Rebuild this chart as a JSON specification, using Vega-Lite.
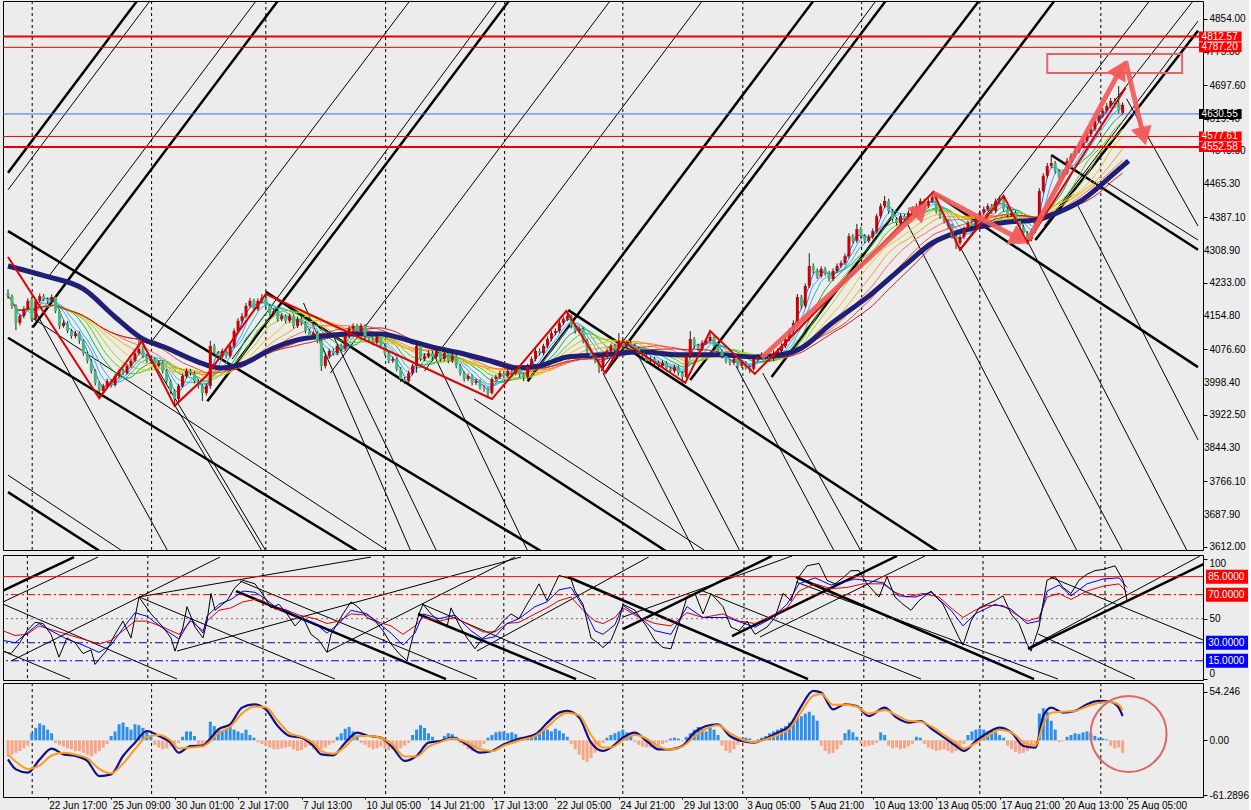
{
"$schema":"https://vega.github.io/schema/vega-lite/v6.json",
"background":"#ECECEC",
"padding":0,
"spacing":1,
"config":{"view":{"stroke":"#000000","strokeWidth":1},"axis":{"labelFont":"Liberation Sans","labelFontSize":10,"labelColor":"#000000","tickColor":"#000000","domainColor":"#000000","grid":false,"title":null,"labelOverlap":false,"labelBound":false}},
"datasets":{
"candles":[
{"i":0,"o":4210,"h":4218,"l":4196,"c":4202,"g":-18},{"i":1,"o":4202,"h":4206,"l":4172,"c":4179,"g":-16},{"i":2,"o":4179,"h":4183,"l":4122,"c":4139,"g":-14},{"i":3,"o":4139,"h":4160,"l":4133,"c":4155,"g":-12},{"i":4,"o":4155,"h":4178,"l":4150,"c":4172,"g":-9},{"i":5,"o":4172,"h":4197,"l":4168,"c":4191,"g":-6},{"i":6,"o":4195,"h":4200,"l":4143,"c":4148,"g":8},{"i":7,"o":4148,"h":4195,"l":4144,"c":4191,"g":14},{"i":8,"o":4191,"h":4208,"l":4186,"c":4202,"g":19},{"i":9,"o":4202,"h":4207,"l":4190,"c":4195,"g":17},
{"i":10,"o":4195,"h":4199,"l":4184,"c":4191,"g":12},{"i":11,"o":4191,"h":4206,"l":4187,"c":4200,"g":8},{"i":12,"o":4200,"h":4203,"l":4162,"c":4167,"g":-3},{"i":13,"o":4167,"h":4170,"l":4125,"c":4132,"g":-5},{"i":14,"o":4132,"h":4145,"l":4128,"c":4139,"g":-7},{"i":15,"o":4139,"h":4143,"l":4115,"c":4120,"g":-9},{"i":16,"o":4120,"h":4125,"l":4102,"c":4108,"g":-10},{"i":17,"o":4108,"h":4120,"l":4103,"c":4115,"g":-12},{"i":18,"o":4115,"h":4119,"l":4090,"c":4097,"g":-12},{"i":19,"o":4097,"h":4100,"l":4062,"c":4068,"g":-14},
{"i":20,"o":4068,"h":4072,"l":4044,"c":4050,"g":-16},{"i":21,"o":4050,"h":4054,"l":4020,"c":4026,"g":-18},{"i":22,"o":4026,"h":4030,"l":3992,"c":3998,"g":-15},{"i":23,"o":3998,"h":4002,"l":3962,"c":3979,"g":-12},{"i":24,"o":3979,"h":3996,"l":3972,"c":3991,"g":-8},{"i":25,"o":3991,"h":4008,"l":3986,"c":4002,"g":-4},{"i":26,"o":4002,"h":4007,"l":3987,"c":3993,"g":5},{"i":27,"o":3993,"h":4019,"l":3989,"c":4014,"g":10},{"i":28,"o":4014,"h":4031,"l":4009,"c":4026,"g":18},{"i":29,"o":4026,"h":4032,"l":4016,"c":4021,"g":20},
{"i":30,"o":4021,"h":4043,"l":4017,"c":4038,"g":15},{"i":31,"o":4038,"h":4055,"l":4033,"c":4050,"g":12},{"i":32,"o":4050,"h":4074,"l":4046,"c":4068,"g":18},{"i":33,"o":4068,"h":4097,"l":4063,"c":4078,"g":17},{"i":34,"o":4078,"h":4083,"l":4056,"c":4061,"g":14},{"i":35,"o":4061,"h":4066,"l":4044,"c":4050,"g":10},{"i":36,"o":4050,"h":4060,"l":4045,"c":4054,"g":6},{"i":37,"o":4054,"h":4058,"l":4032,"c":4038,"g":-5},{"i":38,"o":4038,"h":4050,"l":4034,"c":4045,"g":-8},{"i":39,"o":4045,"h":4049,"l":4020,"c":4026,"g":-10},
{"i":40,"o":4026,"h":4030,"l":3997,"c":4002,"g":-9},{"i":41,"o":4002,"h":4006,"l":3972,"c":3979,"g":-7},{"i":42,"o":3979,"h":3983,"l":3944,"c":3960,"g":-5},{"i":43,"o":3960,"h":3996,"l":3955,"c":3991,"g":-3},{"i":44,"o":3991,"h":4020,"l":3987,"c":4014,"g":4},{"i":45,"o":4014,"h":4032,"l":4009,"c":4026,"g":10},{"i":46,"o":4026,"h":4031,"l":4015,"c":4021,"g":10},{"i":47,"o":4021,"h":4025,"l":3997,"c":4002,"g":5},{"i":48,"o":4002,"h":4006,"l":3985,"c":3991,"g":-4},{"i":49,"o":3991,"h":3995,"l":3955,"c":3974,"g":-6},
{"i":50,"o":3974,"h":3996,"l":3968,"c":3991,"g":-3},{"i":51,"o":3991,"h":4097,"l":3984,"c":4085,"g":21},{"i":52,"o":4085,"h":4090,"l":4062,"c":4068,"g":16},{"i":53,"o":4068,"h":4073,"l":4055,"c":4061,"g":12},{"i":54,"o":4061,"h":4079,"l":4056,"c":4073,"g":10},{"i":55,"o":4073,"h":4077,"l":4055,"c":4061,"g":13},{"i":56,"o":4061,"h":4090,"l":4057,"c":4085,"g":15},{"i":57,"o":4085,"h":4126,"l":4080,"c":4120,"g":12},{"i":58,"o":4120,"h":4150,"l":4115,"c":4144,"g":10},{"i":59,"o":4144,"h":4162,"l":4138,"c":4155,"g":8},
{"i":60,"o":4155,"h":4186,"l":4150,"c":4179,"g":12},{"i":61,"o":4179,"h":4198,"l":4174,"c":4191,"g":6},{"i":62,"o":4191,"h":4196,"l":4166,"c":4172,"g":3},{"i":63,"o":4172,"h":4197,"l":4167,"c":4191,"g":-2},{"i":64,"o":4191,"h":4207,"l":4185,"c":4198,"g":-4},{"i":65,"o":4198,"h":4203,"l":4173,"c":4179,"g":-6},{"i":66,"o":4179,"h":4184,"l":4156,"c":4162,"g":-8},{"i":67,"o":4162,"h":4173,"l":4157,"c":4167,"g":-10},{"i":68,"o":4167,"h":4171,"l":4142,"c":4148,"g":-10},{"i":69,"o":4148,"h":4161,"l":4143,"c":4155,"g":-9},
{"i":70,"o":4155,"h":4159,"l":4138,"c":4144,"g":-8},{"i":71,"o":4144,"h":4161,"l":4139,"c":4155,"g":-7},{"i":72,"o":4155,"h":4159,"l":4126,"c":4132,"g":-10},{"i":73,"o":4132,"h":4154,"l":4127,"c":4148,"g":-12},{"i":74,"o":4148,"h":4153,"l":4133,"c":4139,"g":-11},{"i":75,"o":4139,"h":4143,"l":4114,"c":4120,"g":-8},{"i":76,"o":4120,"h":4125,"l":4102,"c":4108,"g":-6},{"i":77,"o":4108,"h":4121,"l":4103,"c":4115,"g":-10},{"i":78,"o":4115,"h":4119,"l":4091,"c":4097,"g":-12},{"i":79,"o":4097,"h":4101,"l":4026,"c":4038,"g":-10},
{"i":80,"o":4038,"h":4067,"l":4032,"c":4061,"g":-8},{"i":81,"o":4061,"h":4078,"l":4055,"c":4073,"g":-5},{"i":82,"o":4073,"h":4079,"l":4062,"c":4068,"g":-3},{"i":83,"o":4068,"h":4090,"l":4063,"c":4085,"g":4},{"i":84,"o":4085,"h":4090,"l":4072,"c":4078,"g":8},{"i":85,"o":4078,"h":4114,"l":4073,"c":4108,"g":13},{"i":86,"o":4108,"h":4131,"l":4103,"c":4125,"g":15},{"i":87,"o":4125,"h":4138,"l":4120,"c":4132,"g":10},{"i":88,"o":4132,"h":4137,"l":4114,"c":4120,"g":5},{"i":89,"o":4120,"h":4138,"l":4115,"c":4132,"g":-3},
{"i":90,"o":4132,"h":4136,"l":4102,"c":4108,"g":-5},{"i":91,"o":4108,"h":4113,"l":4095,"c":4101,"g":-8},{"i":92,"o":4101,"h":4106,"l":4086,"c":4092,"g":-10},{"i":93,"o":4092,"h":4114,"l":4087,"c":4108,"g":-9},{"i":94,"o":4108,"h":4112,"l":4079,"c":4085,"g":-7},{"i":95,"o":4085,"h":4089,"l":4062,"c":4068,"g":-9},{"i":96,"o":4068,"h":4072,"l":4044,"c":4050,"g":-11},{"i":97,"o":4050,"h":4060,"l":4045,"c":4054,"g":-10},{"i":98,"o":4054,"h":4058,"l":4025,"c":4031,"g":-12},{"i":99,"o":4031,"h":4035,"l":4000,"c":4007,"g":-9},
{"i":100,"o":4007,"h":4012,"l":3995,"c":4002,"g":-6},{"i":101,"o":4002,"h":4027,"l":3998,"c":4021,"g":-3},{"i":102,"o":4021,"h":4043,"l":4016,"c":4038,"g":6},{"i":103,"o":4038,"h":4097,"l":4022,"c":4085,"g":12},{"i":104,"o":4085,"h":4089,"l":4049,"c":4054,"g":17},{"i":105,"o":4054,"h":4067,"l":4049,"c":4061,"g":14},{"i":106,"o":4061,"h":4074,"l":4056,"c":4068,"g":8},{"i":107,"o":4068,"h":4073,"l":4053,"c":4059,"g":4},{"i":108,"o":4059,"h":4079,"l":4054,"c":4073,"g":-2},{"i":109,"o":4073,"h":4077,"l":4048,"c":4054,"g":-1},
{"i":110,"o":4054,"h":4074,"l":4049,"c":4068,"g":5},{"i":111,"o":4068,"h":4072,"l":4044,"c":4050,"g":8},{"i":112,"o":4050,"h":4067,"l":4045,"c":4061,"g":7},{"i":113,"o":4061,"h":4065,"l":4032,"c":4038,"g":4},{"i":114,"o":4038,"h":4042,"l":4015,"c":4021,"g":-3},{"i":115,"o":4021,"h":4025,"l":4001,"c":4007,"g":-6},{"i":116,"o":4007,"h":4020,"l":4002,"c":4014,"g":-10},{"i":117,"o":4014,"h":4018,"l":3992,"c":3998,"g":-12},{"i":118,"o":3998,"h":4008,"l":3993,"c":4002,"g":-10},{"i":119,"o":4002,"h":4006,"l":3982,"c":3988,"g":-8},
{"i":120,"o":3988,"h":3993,"l":3977,"c":3984,"g":-4},{"i":121,"o":3984,"h":3988,"l":3962,"c":3974,"g":3},{"i":122,"o":3974,"h":4012,"l":3970,"c":4007,"g":6},{"i":123,"o":4007,"h":4018,"l":4002,"c":4012,"g":9},{"i":124,"o":4012,"h":4027,"l":4007,"c":4021,"g":10},{"i":125,"o":4021,"h":4026,"l":4009,"c":4014,"g":10},{"i":126,"o":4014,"h":4032,"l":4009,"c":4026,"g":8},{"i":127,"o":4026,"h":4031,"l":4015,"c":4021,"g":9},{"i":128,"o":4021,"h":4037,"l":4016,"c":4031,"g":7},{"i":129,"o":4031,"h":4035,"l":4011,"c":4017,"g":2},
{"i":130,"o":4017,"h":4021,"l":4002,"c":4012,"g":1},{"i":131,"o":4012,"h":4043,"l":4008,"c":4038,"g":2},{"i":132,"o":4038,"h":4060,"l":4033,"c":4054,"g":5},{"i":133,"o":4054,"h":4079,"l":4049,"c":4073,"g":8},{"i":134,"o":4073,"h":4079,"l":4062,"c":4068,"g":11},{"i":135,"o":4068,"h":4090,"l":4063,"c":4085,"g":13},{"i":136,"o":4085,"h":4107,"l":4080,"c":4101,"g":12},{"i":137,"o":4101,"h":4121,"l":4096,"c":4115,"g":10},{"i":138,"o":4115,"h":4126,"l":4110,"c":4120,"g":13},{"i":139,"o":4120,"h":4145,"l":4115,"c":4139,"g":11},
{"i":140,"o":4139,"h":4154,"l":4134,"c":4148,"g":8},{"i":141,"o":4148,"h":4167,"l":4143,"c":4155,"g":4},{"i":142,"o":4155,"h":4159,"l":4126,"c":4132,"g":-4},{"i":143,"o":4132,"h":4137,"l":4114,"c":4120,"g":-10},{"i":144,"o":4120,"h":4131,"l":4115,"c":4125,"g":-16},{"i":145,"o":4125,"h":4129,"l":4091,"c":4097,"g":-22},{"i":146,"o":4097,"h":4101,"l":4067,"c":4073,"g":-24},{"i":147,"o":4073,"h":4077,"l":4055,"c":4061,"g":-20},{"i":148,"o":4061,"h":4066,"l":4044,"c":4050,"g":-14},{"i":149,"o":4050,"h":4054,"l":4021,"c":4035,"g":-8},
{"i":150,"o":4035,"h":4067,"l":4030,"c":4061,"g":-3},{"i":151,"o":4061,"h":4079,"l":4056,"c":4073,"g":3},{"i":152,"o":4073,"h":4090,"l":4068,"c":4085,"g":6},{"i":153,"o":4085,"h":4090,"l":4072,"c":4078,"g":8},{"i":154,"o":4078,"h":4115,"l":4073,"c":4097,"g":10},{"i":155,"o":4097,"h":4102,"l":4079,"c":4085,"g":12},{"i":156,"o":4085,"h":4098,"l":4080,"c":4092,"g":9},{"i":157,"o":4092,"h":4097,"l":4079,"c":4085,"g":5},{"i":158,"o":4085,"h":4090,"l":4072,"c":4078,"g":-2},{"i":159,"o":4078,"h":4083,"l":4062,"c":4068,"g":-5},
{"i":160,"o":4068,"h":4073,"l":4055,"c":4061,"g":-7},{"i":161,"o":4061,"h":4066,"l":4044,"c":4050,"g":-8},{"i":162,"o":4050,"h":4060,"l":4045,"c":4054,"g":-8},{"i":163,"o":4054,"h":4059,"l":4039,"c":4045,"g":-7},{"i":164,"o":4045,"h":4050,"l":4032,"c":4038,"g":-6},{"i":165,"o":4038,"h":4051,"l":4033,"c":4045,"g":-4},{"i":166,"o":4045,"h":4049,"l":4025,"c":4031,"g":-2},{"i":167,"o":4031,"h":4036,"l":4020,"c":4026,"g":2},{"i":168,"o":4026,"h":4041,"l":4021,"c":4035,"g":3},{"i":169,"o":4035,"h":4039,"l":4015,"c":4021,"g":2},
{"i":170,"o":4021,"h":4025,"l":3998,"c":4012,"g":-1},{"i":171,"o":4012,"h":4067,"l":4008,"c":4061,"g":4},{"i":172,"o":4061,"h":4120,"l":4056,"c":4101,"g":8},{"i":173,"o":4101,"h":4106,"l":4079,"c":4085,"g":12},{"i":174,"o":4085,"h":4090,"l":4072,"c":4078,"g":15},{"i":175,"o":4078,"h":4098,"l":4073,"c":4092,"g":13},{"i":176,"o":4092,"h":4103,"l":4087,"c":4097,"g":10},{"i":177,"o":4097,"h":4120,"l":4092,"c":4106,"g":14},{"i":178,"o":4106,"h":4110,"l":4079,"c":4085,"g":12},{"i":179,"o":4085,"h":4089,"l":4067,"c":4073,"g":6},
{"i":180,"o":4073,"h":4077,"l":4055,"c":4061,"g":-6},{"i":181,"o":4061,"h":4066,"l":4044,"c":4050,"g":-12},{"i":182,"o":4050,"h":4055,"l":4039,"c":4045,"g":-14},{"i":183,"o":4045,"h":4060,"l":4040,"c":4054,"g":-10},{"i":184,"o":4054,"h":4058,"l":4032,"c":4038,"g":-5},{"i":185,"o":4038,"h":4051,"l":4033,"c":4045,"g":2},{"i":186,"o":4045,"h":4049,"l":4029,"c":4035,"g":3},{"i":187,"o":4035,"h":4040,"l":4021,"c":4031,"g":2},{"i":188,"o":4031,"h":4060,"l":4027,"c":4054,"g":-1},{"i":189,"o":4054,"h":4065,"l":4049,"c":4059,"g":1},
{"i":190,"o":4059,"h":4070,"l":4053,"c":4064,"g":3},{"i":191,"o":4064,"h":4069,"l":4053,"c":4059,"g":5},{"i":192,"o":4059,"h":4064,"l":4048,"c":4054,"g":8},{"i":193,"o":4054,"h":4074,"l":4049,"c":4068,"g":10},{"i":194,"o":4068,"h":4079,"l":4063,"c":4073,"g":12},{"i":195,"o":4073,"h":4091,"l":4068,"c":4085,"g":14},{"i":196,"o":4085,"h":4107,"l":4080,"c":4101,"g":16},{"i":197,"o":4101,"h":4126,"l":4096,"c":4120,"g":20},{"i":198,"o":4120,"h":4145,"l":4115,"c":4139,"g":22},{"i":199,"o":4139,"h":4207,"l":4134,"c":4200,"g":25},
{"i":200,"o":4200,"h":4205,"l":4172,"c":4179,"g":27},{"i":201,"o":4179,"h":4232,"l":4174,"c":4226,"g":30},{"i":202,"o":4226,"h":4303,"l":4221,"c":4273,"g":32},{"i":203,"o":4273,"h":4279,"l":4255,"c":4261,"g":28},{"i":204,"o":4261,"h":4267,"l":4243,"c":4249,"g":22},{"i":205,"o":4249,"h":4272,"l":4244,"c":4266,"g":-6},{"i":206,"o":4266,"h":4271,"l":4250,"c":4256,"g":-12},{"i":207,"o":4256,"h":4261,"l":4236,"c":4242,"g":-15},{"i":208,"o":4242,"h":4267,"l":4237,"c":4261,"g":-14},{"i":209,"o":4261,"h":4279,"l":4256,"c":4273,"g":-10},
{"i":210,"o":4273,"h":4286,"l":4268,"c":4280,"g":-5},{"i":211,"o":4280,"h":4302,"l":4275,"c":4296,"g":8},{"i":212,"o":4296,"h":4350,"l":4291,"c":4343,"g":12},{"i":213,"o":4343,"h":4348,"l":4326,"c":4332,"g":9},{"i":214,"o":4332,"h":4372,"l":4327,"c":4360,"g":4},{"i":215,"o":4360,"h":4365,"l":4337,"c":4343,"g":-4},{"i":216,"o":4343,"h":4348,"l":4326,"c":4332,"g":-7},{"i":217,"o":4332,"h":4347,"l":4327,"c":4341,"g":-6},{"i":218,"o":4341,"h":4361,"l":4336,"c":4355,"g":-5},{"i":219,"o":4355,"h":4396,"l":4350,"c":4390,"g":-3},
{"i":220,"o":4390,"h":4420,"l":4385,"c":4414,"g":9},{"i":221,"o":4414,"h":4438,"l":4409,"c":4426,"g":6},{"i":222,"o":4426,"h":4431,"l":4396,"c":4402,"g":-6},{"i":223,"o":4402,"h":4407,"l":4377,"c":4383,"g":-9},{"i":224,"o":4383,"h":4388,"l":4368,"c":4374,"g":-8},{"i":225,"o":4374,"h":4396,"l":4369,"c":4390,"g":-10},{"i":226,"o":4390,"h":4395,"l":4377,"c":4383,"g":-9},{"i":227,"o":4383,"h":4404,"l":4378,"c":4398,"g":-7},{"i":228,"o":4398,"h":4413,"l":4393,"c":4407,"g":-4},{"i":229,"o":4407,"h":4420,"l":4402,"c":4414,"g":4},
{"i":230,"o":4414,"h":4432,"l":4409,"c":4426,"g":3},{"i":231,"o":4426,"h":4431,"l":4408,"c":4414,"g":-4},{"i":232,"o":4414,"h":4432,"l":4409,"c":4426,"g":-8},{"i":233,"o":4426,"h":4445,"l":4421,"c":4435,"g":-10},{"i":234,"o":4435,"h":4440,"l":4396,"c":4402,"g":-12},{"i":235,"o":4402,"h":4407,"l":4384,"c":4390,"g":-11},{"i":236,"o":4390,"h":4395,"l":4373,"c":4379,"g":-10},{"i":237,"o":4379,"h":4384,"l":4361,"c":4367,"g":-12},{"i":238,"o":4367,"h":4372,"l":4337,"c":4343,"g":-14},{"i":239,"o":4343,"h":4348,"l":4313,"c":4327,"g":-12},
{"i":240,"o":4327,"h":4347,"l":4322,"c":4341,"g":-8},{"i":241,"o":4341,"h":4366,"l":4336,"c":4360,"g":-4},{"i":242,"o":4360,"h":4380,"l":4355,"c":4374,"g":6},{"i":243,"o":4374,"h":4380,"l":4361,"c":4367,"g":10},{"i":244,"o":4367,"h":4389,"l":4362,"c":4383,"g":12},{"i":245,"o":4383,"h":4404,"l":4378,"c":4398,"g":13},{"i":246,"o":4398,"h":4413,"l":4393,"c":4407,"g":12},{"i":247,"o":4407,"h":4420,"l":4402,"c":4414,"g":10},{"i":248,"o":4414,"h":4419,"l":4396,"c":4402,"g":11},{"i":249,"o":4402,"h":4432,"l":4397,"c":4426,"g":9},
{"i":250,"o":4426,"h":4438,"l":4420,"c":4430,"g":6},{"i":251,"o":4430,"h":4435,"l":4401,"c":4407,"g":3},{"i":252,"o":4407,"h":4412,"l":4387,"c":4393,"g":-6},{"i":253,"o":4393,"h":4404,"l":4388,"c":4398,"g":-10},{"i":254,"o":4398,"h":4403,"l":4373,"c":4379,"g":-13},{"i":255,"o":4379,"h":4384,"l":4359,"c":4365,"g":-15},{"i":256,"o":4365,"h":4370,"l":4344,"c":4350,"g":-14},{"i":257,"o":4350,"h":4355,"l":4327,"c":4336,"g":-12},{"i":258,"o":4336,"h":4361,"l":4331,"c":4355,"g":-9},{"i":259,"o":4355,"h":4385,"l":4350,"c":4379,"g":-5},
{"i":260,"o":4379,"h":4456,"l":4374,"c":4449,"g":30},{"i":261,"o":4449,"h":4491,"l":4444,"c":4485,"g":36},{"i":262,"o":4485,"h":4515,"l":4480,"c":4508,"g":32},{"i":263,"o":4508,"h":4532,"l":4503,"c":4515,"g":22},{"i":264,"o":4515,"h":4520,"l":4490,"c":4496,"g":12},{"i":265,"o":4496,"h":4501,"l":4476,"c":4482,"g":-2},{"i":266,"o":4482,"h":4498,"l":4477,"c":4492,"g":-1},{"i":267,"o":4492,"h":4527,"l":4487,"c":4520,"g":4},{"i":268,"o":4520,"h":4538,"l":4515,"c":4532,"g":6},{"i":269,"o":4532,"h":4550,"l":4527,"c":4543,"g":8},
{"i":270,"o":4543,"h":4562,"l":4538,"c":4555,"g":7},{"i":271,"o":4555,"h":4574,"l":4550,"c":4567,"g":9},{"i":272,"o":4567,"h":4590,"l":4562,"c":4583,"g":10},{"i":273,"o":4583,"h":4602,"l":4578,"c":4595,"g":8},{"i":274,"o":4595,"h":4621,"l":4590,"c":4614,"g":5},{"i":275,"o":4614,"h":4633,"l":4609,"c":4626,"g":3},{"i":276,"o":4626,"h":4645,"l":4621,"c":4638,"g":2},{"i":277,"o":4638,"h":4656,"l":4633,"c":4649,"g":1},{"i":278,"o":4649,"h":4668,"l":4644,"c":4661,"g":-6},{"i":279,"o":4661,"h":4668,"l":4650,"c":4656,"g":-9},
{"i":280,"o":4656,"h":4696,"l":4632,"c":4638,"g":-8},{"i":281,"o":4633,"h":4658,"l":4628,"c":4652,"g":-14}
],
"navy":[{"i":0,"p":4273},{"i":9.5,"p":4249},{"i":19,"p":4219},{"i":27,"p":4153},{"i":33.5,"p":4104},{"i":40,"p":4080},{"i":48,"p":4047},{"i":53.5,"p":4033},{"i":59,"p":4042},{"i":67,"p":4080},{"i":73,"p":4099},{"i":79.5,"p":4108},{"i":86,"p":4113},{"i":94,"p":4113},{"i":100.5,"p":4099},{"i":107,"p":4082},{"i":115,"p":4066},{"i":122.5,"p":4047},{"i":128,"p":4033},{"i":134,"p":4038},{"i":141,"p":4059},{"i":150,"p":4064},{"i":159.5,"p":4071},{"i":169,"p":4064},{"i":179,"p":4064},{"i":188,"p":4059},{"i":195,"p":4064},{"i":200,"p":4080},{"i":207.5,"p":4137},{"i":217,"p":4202},{"i":226.5,"p":4278},{"i":233,"p":4327},{"i":239,"p":4351},{"i":246,"p":4367},{"i":251.5,"p":4376},{"i":259,"p":4381},{"i":265,"p":4400},{"i":270.5,"p":4426},{"i":275,"p":4459},{"i":279,"p":4492},{"i":282.5,"p":4520}],
"zz":[{"x":0,"y":4294},{"x":23,"y":3962},{"x":33.75,"y":4096},{"x":42,"y":3944},{"x":50,"y":4014},{"x":65,"y":4207},{"x":122,"y":3960},{"x":140.75,"y":4167},{"x":150.5,"y":4021},{"x":155,"y":4096},{"x":170.75,"y":3998},{"x":177,"y":4120},{"x":188.25,"y":4019},{"x":233.25,"y":4447},{"x":240,"y":4311},{"x":251,"y":4438},{"x":257,"y":4327},{"x":281.75,"y":4692}],
"sep":[{"x":6.1},{"x":36.2},{"x":65},{"x":95.2},{"x":125.2},{"x":155},{"x":185.25},{"x":215.2},{"x":245},{"x":275.5}],
"dthick":[{"x":0,"y":4492,"x2":32.5,"y2":4896},{"x":6.25,"y":4129,"x2":68,"y2":4896},{"x":50.25,"y":3955,"x2":126.25,"y2":4896},{"x":131,"y":4002,"x2":203,"y2":4896},{"x":150.5,"y":4021,"x2":221.25,"y2":4896},{"x":172,"y":4005,"x2":244.75,"y2":4896},{"x":192.5,"y":4012,"x2":263.75,"y2":4896},{"x":259,"y":4334,"x2":300,"y2":4826},{"x":0,"y":4355,"x2":134.25,"y2":3603},{"x":65,"y":4212,"x2":165.75,"y2":3603},{"x":0,"y":4104,"x2":88,"y2":3603},{"x":0,"y":3741,"x2":23,"y2":3603},{"x":141.25,"y":4169,"x2":234.25,"y2":3603},{"x":233.25,"y":4445,"x2":300,"y2":4035},{"x":263,"y":4534,"x2":300,"y2":4311}],
"dthin":[{"x":0,"y":4452,"x2":35.75,"y2":4896},{"x":10,"y":4245,"x2":62.5,"y2":4896},{"x":36.25,"y":4096,"x2":101.25,"y2":4896},{"x":56.5,"y":4054,"x2":123.25,"y2":4896},{"x":81.25,"y":4021,"x2":151.75,"y2":4896},{"x":105,"y":4026,"x2":175,"y2":4896},{"x":149.5,"y":4026,"x2":218.75,"y2":4896},{"x":240,"y":4313,"x2":287.75,"y2":4896},{"x":261.25,"y":4367,"x2":300,"y2":4849},{"x":275,"y":4614,"x2":298.75,"y2":4896},{"x":5.75,"y":4153,"x2":95.75,"y2":3603},{"x":0,"y":3781,"x2":28.75,"y2":3603},{"x":117.5,"y":3960,"x2":175.75,"y2":3603},{"x":277.25,"y":4468,"x2":300,"y2":4334},{"x":6.75,"y":4169,"x2":40.25,"y2":3603},{"x":33.5,"y":4096,"x2":65,"y2":3603},{"x":42,"y":3946,"x2":64,"y2":3603},{"x":74.5,"y":4186,"x2":101.5,"y2":3603},{"x":82.25,"y":4104,"x2":108,"y2":3603},{"x":107,"y":4071,"x2":131,"y2":3603},{"x":150,"y":4021,"x2":173,"y2":3603},{"x":157.5,"y":4087,"x2":184.5,"y2":3603},{"x":183.5,"y":4038,"x2":208.25,"y2":3603},{"x":190.25,"y":4021,"x2":215,"y2":3603},{"x":226.5,"y":4376,"x2":269.5,"y2":3603},{"x":240,"y":4318,"x2":281,"y2":3603},{"x":257.25,"y":4327,"x2":297.25,"y2":3603},{"x":269.5,"y":4419,"x2":300,"y2":3864},{"x":282,"y":4666,"x2":300,"y2":4367}],
"arrows":[{"x":190,"y":4057,"x2":230.25,"y2":4406},{"x":233.25,"y":4445,"x2":255,"y2":4336},{"x":257.25,"y":4334,"x2":280.5,"y2":4736},{"x":281.75,"y":4755,"x2":286.25,"y2":4578}],
"plab":[{"p":3687.9,"t":"3687.90"},{"p":3844.3,"t":"3844.30"},{"p":3998.4,"t":"3998.40"},{"p":4154.8,"t":"4154.80"},{"p":4308.9,"t":"4308.90"},{"p":4465.3,"t":"4465.30"},{"p":4619.4,"t":"4619.40"},{"p":4775.8,"t":"4775.80"}],
"ptags":[{"p":4812.57,"t":"4812.57"},{"p":4787.2,"t":"4787.20"},{"p":4630.55,"t":"4630.55"},{"p":4577.61,"t":"4577.61"},{"p":4552.58,"t":"4552.58"}],
"sthick":[{"x":0,"y":73.3,"x2":17.75,"y2":101.3},{"x":58.25,"y":73,"x2":110.75,"y2":-0.2},{"x":103.75,"y":53.9,"x2":143.25,"y2":-0.2},{"x":141.25,"y":84.7,"x2":201.25,"y2":-0.2},{"x":155,"y":41.4,"x2":192.25,"y2":102.2},{"x":182.25,"y":35.6,"x2":223.5,"y2":102.2},{"x":198.25,"y":84.7,"x2":257.75,"y2":-0.2},{"x":256.25,"y":24.8,"x2":301.25,"y2":97.2}],
"sthin":[{"x":0,"y":63.9,"x2":23.75,"y2":101.3},{"x":2,"y":14.8,"x2":54.25,"y2":101.3},{"x":34,"y":68.1,"x2":92,"y2":101.3},{"x":43.5,"y":23.1,"x2":129.5,"y2":101.3},{"x":118.5,"y":23.1,"x2":161.4,"y2":101.3},{"x":0,"y":62.2,"x2":43.5,"y2":-0.2},{"x":0,"y":23.1,"x2":16.75,"y2":-0.2},{"x":34,"y":68.1,"x2":83,"y2":-0.2},{"x":59.25,"y":81.4,"x2":118.5,"y2":-0.2},{"x":104.75,"y":62.2,"x2":148.25,"y2":-0.2},{"x":155,"y":51.4,"x2":197.25,"y2":102.2},{"x":189.25,"y":34.8,"x2":230.5,"y2":102.2},{"x":198.25,"y":80.5,"x2":263.75,"y2":-0.2},{"x":175,"y":73,"x2":229.5,"y2":-0.2},{"x":256.75,"y":26.5,"x2":299.25,"y2":102.2},{"x":261.75,"y":84.7,"x2":301.25,"y2":30.6},{"x":258.75,"y":37.3,"x2":283,"y2":-0.2},{"x":81,"y":22.3,"x2":128,"y2":101.3}],
"stags":[{"v":85,"t":"85.0000"},{"v":70,"t":"70.0000"},{"v":30,"t":"30.0000"},{"v":15,"t":"15.0000"}],
"k":[{"i":0,"v":23},{"i":2,"v":21},{"i":4,"v":29},{"i":6,"v":40},{"i":8,"v":47},{"i":10,"v":46},{"i":12,"v":37},{"i":14,"v":18},{"i":16,"v":34},{"i":18,"v":30},{"i":20,"v":21},{"i":22,"v":24},{"i":23,"v":12},{"i":26,"v":24},{"i":28,"v":37},{"i":30,"v":48},{"i":32,"v":34},{"i":34,"v":68},{"i":37,"v":54},{"i":40,"v":43},{"i":42,"v":34},{"i":43,"v":23},{"i":45,"v":43},{"i":46,"v":60},{"i":48,"v":43},{"i":50,"v":34},{"i":51,"v":48},{"i":52,"v":71},{"i":53,"v":57},{"i":56,"v":65},{"i":58,"v":76},{"i":60,"v":82},{"i":63,"v":79},{"i":65,"v":70},{"i":67,"v":59},{"i":69,"v":62},{"i":71,"v":54},{"i":73,"v":44},{"i":75,"v":51},{"i":77,"v":37},{"i":79,"v":32},{"i":81,"v":22},{"i":82,"v":37},{"i":85,"v":54},{"i":87,"v":64},{"i":89,"v":59},{"i":91,"v":51},{"i":93,"v":48},{"i":95,"v":40},{"i":97,"v":29},{"i":99,"v":21},{"i":101,"v":15},{"i":102,"v":29},{"i":104,"v":54},{"i":105,"v":62},{"i":107,"v":54},{"i":109,"v":48},{"i":111,"v":43},{"i":112,"v":59},{"i":114,"v":45},{"i":116,"v":34},{"i":118,"v":25},{"i":120,"v":34},{"i":123,"v":40},{"i":125,"v":48},{"i":127,"v":54},{"i":129,"v":50},{"i":131,"v":62},{"i":133,"v":73},{"i":134,"v":79},{"i":136,"v":65},{"i":138,"v":79},{"i":139,"v":86},{"i":142,"v":83},{"i":143,"v":73},{"i":145,"v":62},{"i":147,"v":34},{"i":149,"v":29},{"i":150,"v":26},{"i":152,"v":32},{"i":154,"v":48},{"i":155,"v":62},{"i":158,"v":57},{"i":161,"v":43},{"i":163,"v":32},{"i":165,"v":26},{"i":167,"v":25},{"i":169,"v":46},{"i":171,"v":68},{"i":173,"v":71},{"i":175,"v":54},{"i":177,"v":71},{"i":180,"v":60},{"i":182,"v":43},{"i":184,"v":40},{"i":186,"v":48},{"i":188,"v":37},{"i":191,"v":43},{"i":193,"v":51},{"i":195,"v":71},{"i":197,"v":65},{"i":199,"v":85},{"i":201,"v":94},{"i":204,"v":96},{"i":206,"v":82},{"i":208,"v":79},{"i":210,"v":84},{"i":212,"v":90},{"i":214,"v":90},{"i":216,"v":79},{"i":219,"v":68},{"i":221,"v":85},{"i":223,"v":68},{"i":225,"v":62},{"i":227,"v":57},{"i":229,"v":65},{"i":232,"v":73},{"i":235,"v":62},{"i":237,"v":48},{"i":239,"v":34},{"i":240,"v":28},{"i":242,"v":48},{"i":244,"v":59},{"i":246,"v":62},{"i":248,"v":65},{"i":250,"v":69},{"i":252,"v":54},{"i":254,"v":46},{"i":256,"v":29},{"i":257,"v":23},{"i":259,"v":43},{"i":261,"v":82},{"i":263,"v":85},{"i":265,"v":76},{"i":267,"v":71},{"i":269,"v":82},{"i":271,"v":87},{"i":273,"v":90},{"i":275,"v":91},{"i":278,"v":94},{"i":280,"v":82},{"i":281,"v":65}],
"b":[{"i":0,"v":32},{"i":3,"v":30},{"i":6,"v":38},{"i":9,"v":46},{"i":12,"v":40},{"i":16,"v":33},{"i":20,"v":28},{"i":24,"v":22},{"i":27,"v":28},{"i":30,"v":42},{"i":33,"v":55},{"i":36,"v":52},{"i":40,"v":42},{"i":44,"v":33},{"i":47,"v":50},{"i":50,"v":38},{"i":51,"v":52},{"i":54,"v":62},{"i":57,"v":66},{"i":60,"v":73},{"i":63,"v":72},{"i":65,"v":68},{"i":68,"v":60},{"i":71,"v":57},{"i":74,"v":50},{"i":78,"v":46},{"i":81,"v":38},{"i":84,"v":46},{"i":87,"v":57},{"i":91,"v":54},{"i":94,"v":46},{"i":97,"v":38},{"i":100,"v":28},{"i":103,"v":38},{"i":105,"v":54},{"i":109,"v":50},{"i":113,"v":53},{"i":117,"v":40},{"i":120,"v":33},{"i":123,"v":35},{"i":126,"v":46},{"i":129,"v":50},{"i":133,"v":60},{"i":136,"v":64},{"i":139,"v":74},{"i":142,"v":76},{"i":145,"v":60},{"i":148,"v":40},{"i":150,"v":37},{"i":153,"v":45},{"i":155,"v":61},{"i":159,"v":52},{"i":163,"v":40},{"i":167,"v":37},{"i":171,"v":60},{"i":175,"v":51},{"i":181,"v":51},{"i":188,"v":43},{"i":192,"v":50},{"i":196,"v":62},{"i":199,"v":79},{"i":203,"v":84},{"i":207,"v":78},{"i":213,"v":83},{"i":220,"v":80},{"i":224,"v":69},{"i":228,"v":68},{"i":232,"v":72},{"i":237,"v":57},{"i":240,"v":44},{"i":243,"v":54},{"i":248,"v":62},{"i":252,"v":58},{"i":256,"v":46},{"i":259,"v":48},{"i":261,"v":73},{"i":264,"v":78},{"i":267,"v":69},{"i":271,"v":79},{"i":275,"v":83},{"i":279,"v":84},{"i":281,"v":76}],
"r":[{"i":0,"v":40},{"i":3,"v":36},{"i":6,"v":37},{"i":9,"v":44},{"i":12,"v":41},{"i":16,"v":37},{"i":20,"v":33},{"i":24,"v":29},{"i":27,"v":32},{"i":30,"v":40},{"i":33,"v":48},{"i":36,"v":48},{"i":40,"v":43},{"i":44,"v":37},{"i":47,"v":48},{"i":50,"v":40},{"i":51,"v":48},{"i":54,"v":57},{"i":57,"v":59},{"i":60,"v":64},{"i":63,"v":66},{"i":65,"v":65},{"i":68,"v":58},{"i":71,"v":57},{"i":74,"v":53},{"i":78,"v":50},{"i":81,"v":46},{"i":84,"v":48},{"i":87,"v":54},{"i":91,"v":53},{"i":94,"v":47},{"i":97,"v":44},{"i":100,"v":37},{"i":103,"v":44},{"i":105,"v":51},{"i":109,"v":48},{"i":113,"v":51},{"i":117,"v":44},{"i":120,"v":39},{"i":123,"v":39},{"i":126,"v":46},{"i":129,"v":47},{"i":133,"v":54},{"i":136,"v":59},{"i":139,"v":65},{"i":142,"v":68},{"i":145,"v":57},{"i":148,"v":48},{"i":150,"v":46},{"i":153,"v":51},{"i":155,"v":59},{"i":159,"v":51},{"i":163,"v":46},{"i":167,"v":44},{"i":171,"v":55},{"i":175,"v":51},{"i":180,"v":54},{"i":184,"v":48},{"i":188,"v":46},{"i":192,"v":52},{"i":196,"v":59},{"i":199,"v":73},{"i":203,"v":79},{"i":207,"v":75},{"i":211,"v":76},{"i":215,"v":79},{"i":220,"v":79},{"i":223,"v":72},{"i":226,"v":68},{"i":230,"v":71},{"i":234,"v":68},{"i":237,"v":59},{"i":240,"v":51},{"i":243,"v":57},{"i":246,"v":61},{"i":250,"v":61},{"i":253,"v":54},{"i":256,"v":48},{"i":259,"v":51},{"i":261,"v":68},{"i":264,"v":71},{"i":267,"v":66},{"i":271,"v":73},{"i":275,"v":77},{"i":279,"v":79},{"i":281,"v":72}],
"m":[{"i":0,"v":-21.3},{"i":2,"v":-32.5},{"i":5,"v":-36.2},{"i":8,"v":-21.3},{"i":11,"v":-9.3},{"i":14,"v":-15.7},{"i":17,"v":-17.5},{"i":20,"v":-23.1},{"i":23,"v":-40},{"i":26,"v":-38.1},{"i":29,"v":-17.5},{"i":32,"v":-2.6},{"i":35,"v":10.5},{"i":38,"v":4.9},{"i":41,"v":-2.6},{"i":43,"v":-13.8},{"i":46,"v":-6.3},{"i":49,"v":-6},{"i":51,"v":2},{"i":53,"v":12.4},{"i":56,"v":18},{"i":59,"v":36.7},{"i":62,"v":40.4},{"i":65,"v":34.8},{"i":68,"v":16.1},{"i":71,"v":4.9},{"i":74,"v":3},{"i":77,"v":-6.3},{"i":79,"v":-15.7},{"i":82,"v":-16.8},{"i":85,"v":-2.6},{"i":88,"v":8.6},{"i":91,"v":4.9},{"i":94,"v":3},{"i":97,"v":-8.2},{"i":100,"v":-23.1},{"i":103,"v":-17.5},{"i":106,"v":-2.6},{"i":109,"v":-0.7},{"i":112,"v":3},{"i":115,"v":-2.6},{"i":119,"v":-13.8},{"i":122,"v":-11.9},{"i":125,"v":-4.4},{"i":129,"v":1.9},{"i":133,"v":6.8},{"i":136,"v":19.9},{"i":139,"v":31.1},{"i":141,"v":33},{"i":144,"v":25.5},{"i":147,"v":-2.6},{"i":150,"v":-11.9},{"i":152,"v":-8.2},{"i":155,"v":3},{"i":158,"v":8.6},{"i":161,"v":-0.7},{"i":164,"v":-10},{"i":167,"v":-10},{"i":170,"v":-6.3},{"i":173,"v":8.6},{"i":176,"v":16.1},{"i":179,"v":18},{"i":182,"v":4.9},{"i":185,"v":-0.7},{"i":188,"v":-2.6},{"i":191,"v":1.9},{"i":194,"v":8.6},{"i":197,"v":16.1},{"i":200,"v":38.5},{"i":203,"v":55.4},{"i":205,"v":53.5},{"i":208,"v":34.8},{"i":211,"v":40.4},{"i":214,"v":38.5},{"i":217,"v":27.3},{"i":221,"v":36.7},{"i":224,"v":25.5},{"i":227,"v":19.9},{"i":230,"v":21.7},{"i":233,"v":12.4},{"i":236,"v":3},{"i":239,"v":-6.3},{"i":241,"v":-11.9},{"i":244,"v":-0.7},{"i":247,"v":8.6},{"i":250,"v":14.2},{"i":253,"v":8.6},{"i":256,"v":-6.3},{"i":259,"v":-8.2},{"i":261,"v":27.3},{"i":263,"v":36.7},{"i":266,"v":31.1},{"i":269,"v":33},{"i":272,"v":40.4},{"i":275,"v":44.2},{"i":278,"v":43},{"i":280,"v":36.7},{"i":281,"v":27.3}],
"sg":[{"i":0,"v":-16},{"i":2,"v":-24},{"i":5,"v":-32},{"i":8,"v":-28},{"i":11,"v":-17},{"i":14,"v":-14},{"i":17,"v":-16},{"i":20,"v":-20},{"i":23,"v":-32},{"i":26,"v":-37},{"i":29,"v":-26},{"i":32,"v":-10},{"i":35,"v":4},{"i":38,"v":6},{"i":41,"v":0},{"i":43,"v":-9},{"i":46,"v":-8},{"i":49,"v":-7},{"i":51,"v":-1},{"i":53,"v":8},{"i":56,"v":15},{"i":59,"v":30},{"i":62,"v":38},{"i":65,"v":37},{"i":68,"v":22},{"i":71,"v":8},{"i":74,"v":4},{"i":77,"v":-3},{"i":79,"v":-12},{"i":82,"v":-15},{"i":85,"v":-7},{"i":88,"v":5},{"i":91,"v":5},{"i":94,"v":3},{"i":97,"v":-5},{"i":100,"v":-18},{"i":103,"v":-18},{"i":106,"v":-7},{"i":109,"v":-2},{"i":112,"v":2},{"i":115,"v":-1},{"i":119,"v":-10},{"i":122,"v":-12},{"i":125,"v":-6},{"i":129,"v":0},{"i":133,"v":5},{"i":136,"v":15},{"i":139,"v":27},{"i":141,"v":31},{"i":144,"v":28},{"i":147,"v":6},{"i":150,"v":-8},{"i":152,"v":-8},{"i":155,"v":0},{"i":158,"v":6},{"i":161,"v":2},{"i":164,"v":-7},{"i":167,"v":-10},{"i":170,"v":-7},{"i":173,"v":4},{"i":176,"v":13},{"i":179,"v":17},{"i":182,"v":8},{"i":185,"v":1},{"i":188,"v":-2},{"i":191,"v":1},{"i":194,"v":6},{"i":197,"v":13},{"i":200,"v":32},{"i":203,"v":50},{"i":205,"v":52},{"i":208,"v":40},{"i":211,"v":40},{"i":214,"v":38},{"i":217,"v":30},{"i":221,"v":34},{"i":224,"v":28},{"i":227,"v":22},{"i":230,"v":21},{"i":233,"v":15},{"i":236,"v":6},{"i":239,"v":-3},{"i":241,"v":-9},{"i":244,"v":-3},{"i":247,"v":5},{"i":250,"v":12},{"i":253,"v":9},{"i":256,"v":-2},{"i":259,"v":-6},{"i":261,"v":18},{"i":263,"v":31},{"i":266,"v":32},{"i":269,"v":33},{"i":272,"v":38},{"i":275,"v":42},{"i":278,"v":43},{"i":280,"v":40},{"i":281,"v":34}]
},
"vconcat":[
{
"width":1200,"height":549,
"layer":[
{"data":{"name":"sep"},"mark":{"type":"rule","color":"#000000","strokeWidth":1,"strokeDash":[3,3]},"encoding":{"x":{"field":"x","type":"quantitative","scale":{"domain":[0,300],"nice":false,"zero":false},"axis":null}}},
{"data":{"name":"dthin"},"mark":{"type":"rule","color":"#000000","strokeWidth":1,"clip":true},"encoding":{"x":{"field":"x","type":"quantitative"},"y":{"field":"y","type":"quantitative","scale":{"domain":[3604.9,4896.2],"nice":false,"zero":false},"axis":{"orient":"right","values":[3612,3687.9,3766.1,3844.3,3922.5,3998.4,4076.6,4154.8,4233,4308.9,4387.1,4465.3,4543.5,4619.4,4697.6,4775.8,4854],"format":".2f","tickSize":4,"labelPadding":2,"domain":false,"labelOverlap":false,"labelFlush":false}},"x2":{"field":"x2"},"y2":{"field":"y2"}}},
{"data":{"name":"dthick"},"mark":{"type":"rule","color":"#000000","strokeWidth":2.5,"clip":true},"encoding":{"x":{"field":"x","type":"quantitative"},"y":{"field":"y","type":"quantitative"},"x2":{"field":"x2"},"y2":{"field":"y2"}}},
{"data":{"name":"candles"},
 "transform":[
  {"window":[{"op":"mean","field":"c","as":"m03"}],"frame":[-2,0],"sort":[{"field":"i"}]},
  {"window":[{"op":"mean","field":"c","as":"m05"}],"frame":[-4,0],"sort":[{"field":"i"}]},
  {"window":[{"op":"mean","field":"c","as":"m07"}],"frame":[-6,0],"sort":[{"field":"i"}]},
  {"window":[{"op":"mean","field":"c","as":"m10"}],"frame":[-9,0],"sort":[{"field":"i"}]},
  {"window":[{"op":"mean","field":"c","as":"m13"}],"frame":[-12,0],"sort":[{"field":"i"}]},
  {"window":[{"op":"mean","field":"c","as":"m16"}],"frame":[-15,0],"sort":[{"field":"i"}]},
  {"window":[{"op":"mean","field":"c","as":"m20"}],"frame":[-19,0],"sort":[{"field":"i"}]},
  {"window":[{"op":"mean","field":"c","as":"m24"}],"frame":[-23,0],"sort":[{"field":"i"}]},
  {"window":[{"op":"mean","field":"c","as":"m28"}],"frame":[-27,0],"sort":[{"field":"i"}]},
  {"window":[{"op":"mean","field":"c","as":"m33"}],"frame":[-32,0],"sort":[{"field":"i"}]},
  {"window":[{"op":"mean","field":"c","as":"m38"}],"frame":[-37,0],"sort":[{"field":"i"}]},
  {"fold":["m03","m05","m07","m10","m13","m16","m20","m24","m28","m33","m38"],"as":["key","val"]}
 ],
 "mark":{"type":"line","strokeWidth":1,"clip":true,"interpolate":"monotone"},
 "encoding":{"x":{"field":"i","type":"quantitative"},"y":{"field":"val","type":"quantitative"},"color":{"field":"key","type":"nominal","scale":{"domain":["m03","m05","m07","m10","m13","m16","m20","m24","m28","m33","m38"],"range":["#1565FF","#3D9BFF","#20B8D8","#00B050","#5CC800","#B5CF00","#EEC800","#FFA000","#FF7040","#F04040","#C81E1E"]},"legend":null}}},
{"data":{"name":"navy"},"mark":{"type":"line","color":"#1F1F78","strokeWidth":5,"interpolate":"monotone","clip":true},"encoding":{"x":{"field":"i","type":"quantitative"},"y":{"field":"p","type":"quantitative"}}},
{"data":{"name":"candles"},"mark":{"type":"rule","color":"#222222","strokeWidth":1},"encoding":{"x":{"field":"i","type":"quantitative"},"y":{"field":"l","type":"quantitative"},"y2":{"field":"h"}}},
{"data":{"name":"candles"},"mark":{"type":"bar","width":3},"encoding":{"x":{"field":"i","type":"quantitative"},"y":{"field":"o","type":"quantitative"},"y2":{"field":"c"},"color":{"condition":{"test":"datum.c >= datum.o","value":"#C80000"},"value":"#45B878"}}},
{"data":{"name":"zz"},"mark":{"type":"line","color":"#E00000","strokeWidth":2,"clip":true},"encoding":{"x":{"field":"x","type":"quantitative"},"y":{"field":"y","type":"quantitative"}}},
{"data":{"values":[{}]},"mark":{"type":"rule","color":"#E60000","strokeWidth":2},"encoding":{"y":{"datum":4812.57}}},
{"data":{"values":[{}]},"mark":{"type":"rule","color":"#E60000","strokeWidth":1},"encoding":{"y":{"datum":4787.2}}},
{"data":{"values":[{}]},"mark":{"type":"rule","color":"#3F6FE0","strokeWidth":1},"encoding":{"y":{"datum":4630.55}}},
{"data":{"values":[{}]},"mark":{"type":"rule","color":"#E60000","strokeWidth":1},"encoding":{"y":{"datum":4577.61}}},
{"data":{"values":[{}]},"mark":{"type":"rule","color":"#E60000","strokeWidth":2},"encoding":{"y":{"datum":4552.58}}},
{"data":{"values":[{}]},"mark":{"type":"rect","filled":false,"stroke":"#E46464","strokeWidth":2},"encoding":{"x":{"datum":262},"x2":{"datum":296},"y":{"datum":4771.5},"y2":{"datum":4726.9}}},
{"data":{"name":"arrows"},"mark":{"type":"rule","color":"#F25A5A","strokeWidth":5,"opacity":0.92},"encoding":{"x":{"field":"x","type":"quantitative"},"y":{"field":"y","type":"quantitative"},"x2":{"field":"x2"},"y2":{"field":"y2"}}},
{"data":{"values":[{"x":230.25,"y":4406}]},"mark":{"type":"point","shape":"triangle-up","angle":47,"size":460,"filled":true,"color":"#F25A5A","opacity":0.95},"encoding":{"x":{"field":"x","type":"quantitative"},"y":{"field":"y","type":"quantitative"}}},
{"data":{"values":[{"x":255,"y":4336}]},"mark":{"type":"point","shape":"triangle-up","angle":118,"size":460,"filled":true,"color":"#F25A5A","opacity":0.95},"encoding":{"x":{"field":"x","type":"quantitative"},"y":{"field":"y","type":"quantitative"}}},
{"data":{"values":[{"x":280.5,"y":4736}]},"mark":{"type":"point","shape":"triangle-up","angle":29,"size":460,"filled":true,"color":"#F25A5A","opacity":0.95},"encoding":{"x":{"field":"x","type":"quantitative"},"y":{"field":"y","type":"quantitative"}}},
{"data":{"values":[{"x":286.25,"y":4578}]},"mark":{"type":"point","shape":"triangle-up","angle":166,"size":460,"filled":true,"color":"#F25A5A","opacity":0.95},"encoding":{"x":{"field":"x","type":"quantitative"},"y":{"field":"y","type":"quantitative"}}},
{"data":{"name":"plab"},"mark":{"type":"text","align":"left","baseline":"middle","color":"#000000","font":"Liberation Sans","fontSize":10},"encoding":{"x":{"datum":301.5,"type":"quantitative"},"y":{"field":"p","type":"quantitative"},"text":{"field":"t"}}},
{"data":{"name":"ptags"},"mark":{"type":"rect","yOffset":-5,"y2Offset":5},"encoding":{"x":{"datum":300.25,"type":"quantitative"},"x2":{"datum":311},"y":{"field":"p","type":"quantitative"},"y2":{"field":"p"},"color":{"condition":{"test":"datum.p == 4630.55","value":"#000000"},"value":"#FF0000"}}},
{"data":{"name":"ptags"},"mark":{"type":"text","align":"left","baseline":"middle","color":"#FFFFFF","font":"Liberation Sans","fontSize":10},"encoding":{"x":{"datum":300.9,"type":"quantitative"},"y":{"field":"p","type":"quantitative"},"text":{"field":"t"}}}
]
},
{
"width":1200,"height":125,
"layer":[
{"data":{"name":"sep"},"mark":{"type":"rule","color":"#000000","strokeWidth":1,"strokeDash":[3,3]},"encoding":{"x":{"field":"x","type":"quantitative","scale":{"domain":[0,300],"nice":false,"zero":false},"axis":null}}},
{"data":{"name":"sthin"},"mark":{"type":"rule","color":"#000000","strokeWidth":1,"clip":true},"encoding":{"x":{"field":"x","type":"quantitative"},"y":{"field":"y","type":"quantitative","scale":{"domain":[-1,103],"nice":false,"zero":false},"axis":{"orient":"right","values":[0,50,100],"format":"d","tickSize":4,"labelPadding":2,"domain":false,"labelFlush":6}},"x2":{"field":"x2"},"y2":{"field":"y2"}}},
{"data":{"name":"sthick"},"mark":{"type":"rule","color":"#000000","strokeWidth":2.5,"clip":true},"encoding":{"x":{"field":"x","type":"quantitative"},"y":{"field":"y","type":"quantitative"},"x2":{"field":"x2"},"y2":{"field":"y2"}}},
{"data":{"values":[{}]},"mark":{"type":"rule","color":"#FF0000","strokeWidth":1},"encoding":{"y":{"datum":85}}},
{"data":{"values":[{}]},"mark":{"type":"rule","color":"#E00000","strokeWidth":1,"strokeDash":[8,3,2,3]},"encoding":{"y":{"datum":70}}},
{"data":{"values":[{}]},"mark":{"type":"rule","color":"#707070","strokeWidth":1,"strokeDash":[2,3]},"encoding":{"y":{"datum":50}}},
{"data":{"values":[{}]},"mark":{"type":"rule","color":"#0000CC","strokeWidth":1,"strokeDash":[8,3,2,3]},"encoding":{"y":{"datum":30}}},
{"data":{"values":[{}]},"mark":{"type":"rule","color":"#0000CC","strokeWidth":1,"strokeDash":[8,3,2,3]},"encoding":{"y":{"datum":15}}},
{"data":{"name":"r"},"mark":{"type":"line","color":"#E00000","strokeWidth":1},"encoding":{"x":{"field":"i","type":"quantitative"},"y":{"field":"v","type":"quantitative"}}},
{"data":{"name":"b"},"mark":{"type":"line","color":"#0000FF","strokeWidth":1},"encoding":{"x":{"field":"i","type":"quantitative"},"y":{"field":"v","type":"quantitative"}}},
{"data":{"name":"k"},"mark":{"type":"line","color":"#000000","strokeWidth":1},"encoding":{"x":{"field":"i","type":"quantitative"},"y":{"field":"v","type":"quantitative"}}},
{"data":{"name":"stags"},"mark":{"type":"rect","yOffset":-7,"y2Offset":7},"encoding":{"x":{"datum":300.75,"type":"quantitative"},"x2":{"datum":311.25},"y":{"field":"v","type":"quantitative"},"y2":{"field":"v"},"color":{"condition":{"test":"datum.v > 50","value":"#FF0000"},"value":"#0000FF"}}},
{"data":{"name":"stags"},"mark":{"type":"text","align":"left","baseline":"middle","color":"#FFFFFF","font":"Liberation Sans","fontSize":10},"encoding":{"x":{"datum":301.3,"type":"quantitative"},"y":{"field":"v","type":"quantitative"},"text":{"field":"t"}}}
]
},
{
"width":1200,"height":114,
"layer":[
{"data":{"name":"sep"},"mark":{"type":"rule","color":"#000000","strokeWidth":1,"strokeDash":[3,3]},"encoding":{"x":{"field":"x","type":"quantitative","scale":{"domain":[0,300],"nice":false,"zero":false},"axis":{"values":[10,26,42,58,74,90,106,122,138,154,170,186,202,218,234,250,266,282],"labelExpr":"['22 Jun 17:00','25 Jun 09:00','30 Jun 01:00','2 Jul 17:00','7 Jul 13:00','10 Jul 05:00','14 Jul 21:00','17 Jul 13:00','22 Jul 05:00','24 Jul 21:00','29 Jul 13:00','3 Aug 05:00','5 Aug 21:00','10 Aug 13:00','13 Aug 05:00','17 Aug 21:00','20 Aug 13:00','25 Aug 05:00'][round((datum.value-10)/16)]","labelAlign":"left","labelOffset":1,"tickSize":2,"labelPadding":1,"domain":false,"labelOverlap":false,"labelFlush":false}}}},
{"data":{"name":"candles"},"mark":{"type":"bar","width":3},"encoding":{"x":{"field":"i","type":"quantitative"},"y":{"field":"g","type":"quantitative","scale":{"domain":[-63.5,64.3],"nice":false,"zero":false},"axis":{"orient":"right","values":[54.246,0,-61.2896],"labelExpr":"datum.value == 0 ? '0.00' : (datum.value > 0 ? '54.246' : '-61.2896')","tickSize":4,"labelPadding":2,"domain":false,"labelOverlap":false}},"y2":{"datum":0},"color":{"condition":{"test":"datum.g > 0","value":"#2E8FE8"},"value":"#F8A585"}}},
{"data":{"name":"m"},"mark":{"type":"line","color":"#10108C","strokeWidth":2.2,"interpolate":"monotone"},"encoding":{"x":{"field":"i","type":"quantitative"},"y":{"field":"v","type":"quantitative"}}},
{"data":{"name":"sg"},"mark":{"type":"line","color":"#FF9A1A","strokeWidth":2,"interpolate":"monotone"},"encoding":{"x":{"field":"i","type":"quantitative"},"y":{"field":"v","type":"quantitative"}}},
{"data":{"values":[{"x":282.5,"y":7.2}]},"mark":{"type":"point","shape":"circle","size":5776,"filled":false,"stroke":"#E06666","strokeWidth":2,"opacity":1},"encoding":{"x":{"field":"x","type":"quantitative"},"y":{"field":"y","type":"quantitative"}}}
]
}
]
}
